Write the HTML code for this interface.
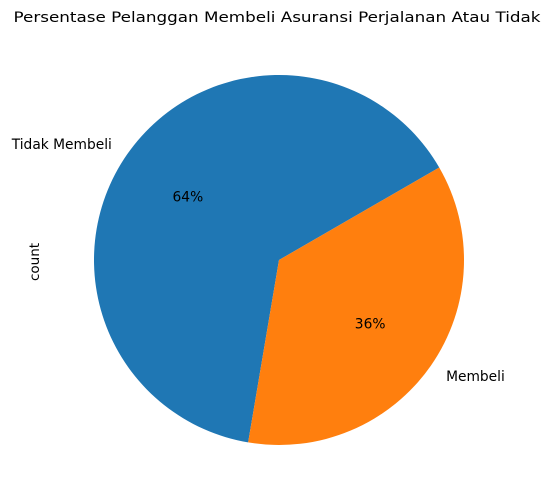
<!DOCTYPE html>
<html><head><meta charset="utf-8"><style>
html,body{margin:0;padding:0;background:#fff;}
svg{display:block;font-family:"DejaVu Sans","Liberation Sans",sans-serif;}
</style></head><body>
<svg id="chart" width="554" height="502" viewBox="0 0 554 502">
<text x="277" y="22" text-anchor="middle" font-size="14" textLength="527" lengthAdjust="spacingAndGlyphs">Persentase Pelanggan Membeli Asuransi Perjalanan Atau Tidak</text>
<text x="0" y="0" transform="translate(39,262) rotate(-90)" text-anchor="middle" font-size="13.5">count</text>
<g id="slices"></g>
</svg>
<script>
const categories = ["Tidak Membeli", "Membeli"];
const values = [64, 36];
const colors = ["#1f77b4", "#ff7f0e"];
const pctLabels = ["64%", "36%"];
const startAngle = 30;

const cx = 279, cy = 260, r = 185;
const g = document.getElementById('slices');
const NS = "http://www.w3.org/2000/svg";
const total = values.reduce((a,b)=>a+b,0);
function pt(deg, rr){ const a = deg*Math.PI/180; return [cx + rr*Math.cos(a), cy - rr*Math.sin(a)]; }
let ang = startAngle;
values.forEach((v,i)=>{
  const sweep = v/total*360;
  const a0 = ang, a1 = ang + sweep;
  const p0 = pt(a0,r), p1 = pt(a1,r);
  const path = document.createElementNS(NS,'path');
  path.setAttribute('d', `M${cx},${cy} L${p0[0]},${p0[1]} A${r},${r} 0 ${sweep>180?1:0} 0 ${p1[0]},${p1[1]} Z`);
  path.setAttribute('fill', colors[i]);
  
  
  g.appendChild(path);
  const mid = (a0+a1)/2;
  const lp = pt(mid, r*1.1);
  const lt = document.createElementNS(NS,'text');
  lt.setAttribute('x', lp[0]); lt.setAttribute('y', lp[1]+5);
  lt.setAttribute('font-size','13.8');
  lt.setAttribute('text-anchor', Math.cos(mid*Math.PI/180) < 0 ? 'end' : 'start');
  lt.textContent = categories[i];
  
  
  g.appendChild(lt);
  const pp = pt(mid, r*0.6);
  const pt2 = document.createElementNS(NS,'text');
  pt2.setAttribute('x', pp[0]); pt2.setAttribute('y', pp[1]+5);
  pt2.setAttribute('font-size','13.8');
  pt2.setAttribute('text-anchor','middle');
  pt2.textContent = pctLabels[i];
  
  
  g.appendChild(pt2);
  ang = a1;
});
</script>
</body></html>
